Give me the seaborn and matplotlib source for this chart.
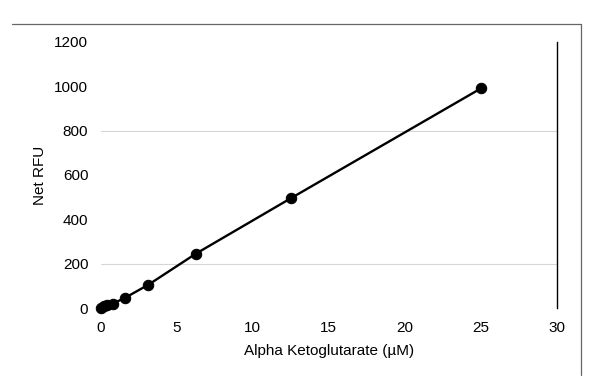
import matplotlib
matplotlib.use("Agg")
import matplotlib.pyplot as plt
import pandas as pd
import seaborn as sns
from matplotlib.lines import Line2D

# standard curve (serial dilution)
concentration = [0, 0.195, 0.39, 0.78, 1.5625, 3.125, 6.25, 12.5, 25]
net_rfu = [0, 8, 14, 20, 45, 105, 245, 495, 990]
x_ticks = [0, 5, 10, 15, 20, 25, 30]
y_ticks = [0, 200, 400, 600, 800, 1000, 1200]

df = pd.DataFrame({"conc": concentration, "rfu": net_rfu})

sns.set_style("white")
plt.rcParams["font.family"] = ["Liberation Sans", "DejaVu Sans"]
plt.rcParams["text.color"] = "black"
plt.rcParams["xtick.color"] = "black"
plt.rcParams["ytick.color"] = "black"
plt.rcParams["axes.labelcolor"] = "black"

fig = plt.figure(figsize=(6, 3.88), dpi=100)
ax = fig.add_axes([0.168, 0.206, 0.76, 0.686])

sns.lineplot(data=df, x="conc", y="rfu", ax=ax, color="black", linewidth=1.7,
             marker="o", markersize=7.5, markeredgecolor="black", clip_on=False)

ax.set_xlim(0, 30)
ax.set_ylim(0, 1200)
ax.set_xticks(x_ticks)
ax.set_yticks(y_ticks)
ax.tick_params(axis="both", labelsize=11, length=0, pad=9)

for y in (200, 800):
    ax.axhline(y, color="#d6d6d6", linewidth=0.8, zorder=0)

for side in ("left", "top", "bottom"):
    ax.spines[side].set_visible(False)
ax.spines["right"].set_color("black")
ax.spines["right"].set_linewidth(1.0)

ax.set_xlabel("Alpha Ketoglutarate (\u00b5M)", fontsize=11, labelpad=7)
ax.set_ylabel("Net RFU", fontsize=11, labelpad=5)

# outer frame remnants of the original figure box
fig.add_artist(Line2D([0.02, 0.968], [0.938, 0.938], color="#666666", linewidth=0.9))
fig.add_artist(Line2D([0.968, 0.968], [0.938, 0.033], color="#666666", linewidth=0.9))

fig.savefig("out.png", dpi=100)
